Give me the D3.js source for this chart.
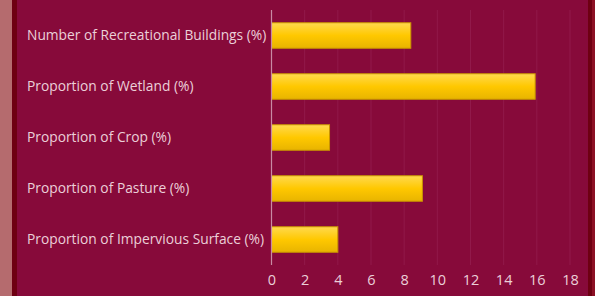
<html>
  <head>
    <script src="https://d3js.org/d3.v7.min.js"></script>
    <style>
      body { margin: 0; background: #870a3a; }
      svg { display: block; }
    </style>
  </head>
  <body>
    <svg id="graph" width="595" height="296"></svg>
    <script>
      const categories = [
        "Number of Recreational Buildings (%)",
        "Proportion of Wetland (%)",
        "Proportion of Crop (%)",
        "Proportion of Pasture (%)",
        "Proportion of Impervious Surface (%)",
      ];
      const values = [8.4, 15.9, 3.5, 9.1, 4.0];
      const ticks = [0, 2, 4, 6, 8, 10, 12, 14, 16, 18];

      const svg = d3.select("#graph");

      // backdrop: pink strip, dark red edges
      svg.append("rect").attr("width", 595).attr("height", 296).attr("fill", "#870a3a");
      svg.append("rect").attr("x", 0).attr("width", 12).attr("height", 296).attr("fill", "#b56b6e");
      svg.append("rect").attr("x", 12).attr("width", 5).attr("height", 296).attr("fill", "#6e0012");
      svg.append("rect").attr("x", 588).attr("width", 4).attr("height", 296).attr("fill", "#6e0012");
      svg.append("rect").attr("x", 592).attr("width", 3).attr("height", 296).attr("fill", "#8c1024");

      const plotLeft = 271.5, plotRight = 570, plotTop = 10, plotBottom = 265;
      const labelLeft = 27;

      const x = d3.scaleLinear().domain([0, 18]).range([plotLeft, plotRight]);
      const y = d3.scaleBand().domain(categories).range([plotTop, plotBottom]).paddingInner(0.5).paddingOuter(0.25);

      const defs = svg.append("defs");
      const grad = defs.append("linearGradient").attr("id", "gold")
        .attr("x1", 0).attr("y1", 0).attr("x2", 0).attr("y2", 1);
      grad.append("stop").attr("offset", "0%").attr("stop-color", "#ffd94f");
      grad.append("stop").attr("offset", "50%").attr("stop-color", "#ffc800");
      grad.append("stop").attr("offset", "100%").attr("stop-color", "#e8b400");

      // gridlines
      svg.append("g")
        .selectAll("line")
        .data(ticks.slice(1))
        .enter()
        .append("line")
        .attr("x1", (d) => x(d)).attr("x2", (d) => x(d))
        .attr("y1", plotTop).attr("y2", plotBottom)
        .attr("stroke", "#91194a").attr("stroke-width", 1);

      // bars
      svg.append("g")
        .selectAll("rect")
        .data(values)
        .enter()
        .append("rect")
        .attr("x", x(0))
        .attr("y", (d, i) => y(categories[i]))
        .attr("width", (d) => x(d) - x(0))
        .attr("height", y.bandwidth())
        .attr("fill", "url(#gold)")
        .attr("stroke", "#c99400")
        .attr("stroke-width", 1);

      // value axis line
      svg.append("line")
        .attr("x1", x(0)).attr("x2", x(0))
        .attr("y1", plotTop).attr("y2", plotBottom)
        .attr("stroke", "#c98aa3").attr("stroke-width", 1.2);

      const font = "Open Sans";
      const textColor = "#ebcfd8";

      // bottom axis
      const xAxis = svg.append("g")
        .attr("transform", `translate(0, ${plotBottom})`)
        .call(d3.axisBottom(x).tickValues(ticks).tickSize(0).tickPadding(10));
      xAxis.select(".domain").remove();
      xAxis.selectAll("text")
        .attr("fill", textColor)
        .attr("font-family", font)
        .attr("font-size", 14.5);

      // category axis, labels left-aligned
      const yAxis = svg.append("g")
        .attr("transform", `translate(${x(0)}, 0)`)
        .call(d3.axisLeft(y).tickSize(0));
      yAxis.select(".domain").remove();
      yAxis.selectAll("text")
        .attr("x", labelLeft - x(0))
        .attr("text-anchor", "start")
        .attr("fill", textColor)
        .attr("font-family", font)
        .attr("font-size", 13.8);
    </script>
  </body>
</html>
